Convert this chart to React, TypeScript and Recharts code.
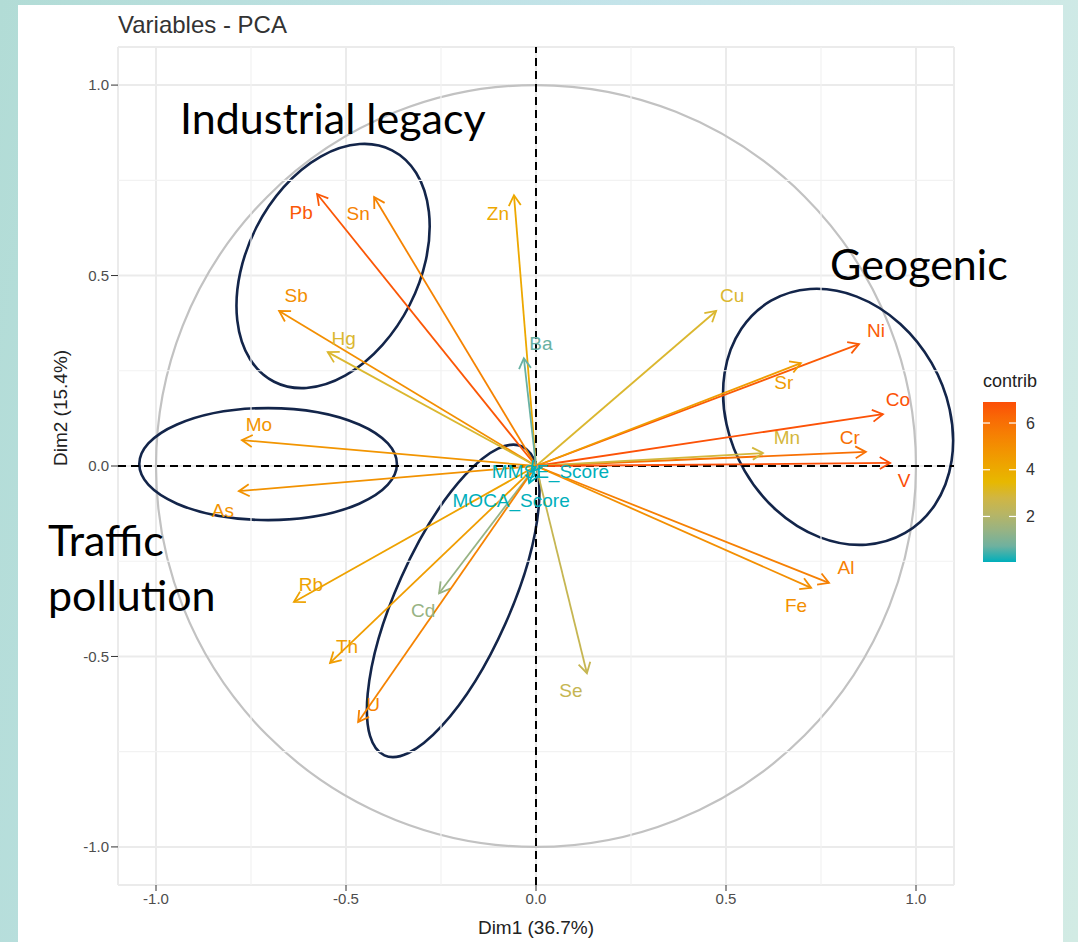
import React from "react";
import {
  ScatterChart,
  Scatter,
  XAxis,
  YAxis,
  CartesianGrid,
  ReferenceLine,
  ReferenceArea,
} from "recharts";

// PCA variable coordinates (Dim1, Dim2) and their contribution (%)
const variables = [
  "Pb", "Sn", "Zn", "Sb", "Hg", "Ba", "Mo", "As", "Cu", "Ni", "Sr", "Co",
  "Cr", "Mn", "V", "Al", "Fe", "Rb", "Th", "Cd", "U", "Se", "MMSE_Score", "MOCA_Score",
];
const dim1 = [
  -0.576, -0.426, -0.058, -0.676, -0.548, -0.032, -0.774, -0.782, 0.474, 0.85, 0.697, 0.913,
  0.868, 0.597, 0.932, 0.771, 0.724, -0.637, -0.542, -0.255, -0.468, 0.134, -0.012, -0.018,
];
const dim2 = [
  0.714, 0.706, 0.711, 0.407, 0.299, 0.283, 0.068, -0.066, 0.407, 0.32, 0.27, 0.136,
  0.037, 0.034, 0.008, -0.307, -0.32, -0.357, -0.517, -0.334, -0.672, -0.544, -0.015, -0.045,
];
const contrib = [
  6.7, 5.4, 4.1, 5.0, 3.1, 0.65, 4.8, 4.9, 3.1, 6.6, 4.5, 6.8,
  6.0, 2.9, 6.9, 5.5, 5.0, 4.3, 4.5, 1.4, 5.4, 2.5, 0.05, 0.05,
];

const axisTicks = [-1, -0.5, 0, 0.5, 1];
const minorTicks = [-0.75, -0.25, 0.25, 0.75];
const legendTicks = [2, 4, 6];

// hand-drawn groupings: centre, semi-axes (data units), rotation (deg)
const groups = [
  { label: "Industrial legacy", cx: -0.534, cy: 0.525, rx: 0.226, ry: 0.341, rot: 27 },
  { label: "Traffic pollution", cx: -0.705, cy: 0.005, rx: 0.339, ry: 0.147, rot: 0 },
  { label: "", cx: -0.218, cy: -0.354, rx: 0.15, ry: 0.444, rot: 24 },
  { label: "Geogenic", cx: 0.795, cy: 0.129, rx: 0.284, ry: 0.352, rot: -30 },
];

// label nudge from arrow tip, in pixels
const nudge: Record<string, [number, number]> = {
  Pb: [-16, 18], Sn: [-16, 16], Zn: [-16, 18], Sb: [17, -15], Hg: [16, -14], Ba: [17, -15],
  Mo: [17, -16], As: [-16, 19], Cu: [16, -15], Ni: [17, -14], Sr: [-17, 19], Co: [15, -15],
  Cr: [-16, -14], Mn: [24, -16], V: [14, 18], Al: [17, -15], Fe: [-15, 18], Rb: [17, -17],
  Th: [17, -16], Cd: [-16, 17], U: [15, -17], Se: [-16, 17], MMSE_Score: [19, 0], MOCA_Score: [-18, 17],
};

const GRAD = ["#00AFBB", "#E7B800", "#FC4E07"];
const cMin = Math.min(...contrib);
const cMax = Math.max(...contrib);

// colour interpolation in CIE Lab, like ggplot's gradientn
const toLin = (c: number) => (c <= 0.04045 ? c / 12.92 : Math.pow((c + 0.055) / 1.055, 2.4));
const fromLin = (c: number) => (c <= 0.0031308 ? 12.92 * c : 1.055 * Math.pow(c, 1 / 2.4) - 0.055);
const WP = [0.95047, 1, 1.08883];
const hexToLab = (hex: string) => {
  const [r, g, b] = [1, 3, 5].map((i) => toLin(parseInt(hex.slice(i, i + 2), 16) / 255));
  const xyz = [
    0.4124 * r + 0.3576 * g + 0.1805 * b,
    0.2126 * r + 0.7152 * g + 0.0722 * b,
    0.0193 * r + 0.1192 * g + 0.9505 * b,
  ].map((v, i) => v / WP[i]);
  const f = xyz.map((t) => (t > 0.008856 ? Math.cbrt(t) : 7.787 * t + 16 / 116));
  return [116 * f[1] - 16, 500 * (f[0] - f[1]), 200 * (f[1] - f[2])];
};
const labToRgb = (lab: number[]) => {
  const fy = (lab[0] + 16) / 116;
  const fx = fy + lab[1] / 500;
  const fz = fy - lab[2] / 200;
  const [x, y, z] = [fx, fy, fz].map((f, i) => (f ** 3 > 0.008856 ? f ** 3 : (f - 16 / 116) / 7.787) * WP[i]);
  const rgb = [
    3.2406 * x - 1.5372 * y - 0.4986 * z,
    -0.9689 * x + 1.8758 * y + 0.0415 * z,
    0.0557 * x - 0.204 * y + 1.057 * z,
  ].map((c) => Math.round(Math.min(1, Math.max(0, fromLin(c))) * 255));
  return `rgb(${rgb.join(",")})`;
};
const LABS = GRAD.map(hexToLab);
const colorOf = (v: number) => {
  const t = Math.min(1, Math.max(0, (v - cMin) / (cMax - cMin))) * (LABS.length - 1);
  const k = Math.min(LABS.length - 2, Math.floor(t));
  const u = t - k;
  return labToRgb(LABS[k].map((c, i) => c + (LABS[k + 1][i] - c) * u));
};

const points = variables.map((name, i) => ({
  name,
  x: dim1[i],
  y: dim2[i],
  contrib: contrib[i],
  color: colorOf(contrib[i]),
}));

const FONT = "'Liberation Sans', Arial, sans-serif";

const arrowShape = (color: string) => (p: any) => {
  const { x1, y1, x2, y2 } = p;
  const ang = Math.atan2(y2 - y1, x2 - x1);
  const L = 12;
  const a = Math.PI / 6;
  const h1 = `${x2 - L * Math.cos(ang - a)},${y2 - L * Math.sin(ang - a)}`;
  const h2 = `${x2 - L * Math.cos(ang + a)},${y2 - L * Math.sin(ang + a)}`;
  return (
    <g>
      <line x1={x1} y1={y1} x2={x2} y2={y2} stroke={color} strokeWidth={1.8} />
      <polyline points={`${h1} ${x2},${y2} ${h2}`} fill="none" stroke={color} strokeWidth={1.8} />
    </g>
  );
};

const ellipseShape = (stroke: string, width: number, rot: number) => (p: any) => {
  const cx = p.x + p.width / 2;
  const cy = p.y + p.height / 2;
  return (
    <ellipse
      cx={cx}
      cy={cy}
      rx={Math.abs(p.width) / 2}
      ry={Math.abs(p.height) / 2}
      fill="none"
      stroke={stroke}
      strokeWidth={width}
      transform={`rotate(${rot} ${cx} ${cy})`}
    />
  );
};

const LabelDot = (p: any) => {
  const { cx, cy, payload } = p;
  const [dx, dy] = nudge[payload.name] || [0, 0];
  return (
    <text
      x={cx + dx}
      y={cy + dy}
      textAnchor="middle"
      dominantBaseline="central"
      fontSize={19}
      fontFamily={FONT}
      fill={payload.color}
    >
      {payload.name}
    </text>
  );
};

const fmt = (v: number) => v.toFixed(1);

const ColorBar = () => {
  const top = 402;
  const h = 160;
  const yOf = (v: number) => top + ((cMax - v) / (cMax - cMin)) * h;
  const stops = [0, 0.1, 0.2, 0.3, 0.4, 0.5, 0.6, 0.7, 0.8, 0.9, 1];
  return (
    <svg width={1078} height={942} style={{ position: "absolute", left: 0, top: 0, pointerEvents: "none" }}>
      <defs>
        <linearGradient id="cb" x1="0" y1="1" x2="0" y2="0">
          {stops.map((s) => (
            <stop key={s} offset={`${s * 100}%`} stopColor={colorOf(cMin + s * (cMax - cMin))} />
          ))}
        </linearGradient>
      </defs>
      <text x={983} y={381} fontSize={18} fontFamily={FONT} fill="#222" dominantBaseline="central">
        contrib
      </text>
      <rect x={983} y={top} width={33} height={h} fill="url(#cb)" />
      {legendTicks.map((t) => (
        <g key={t}>
          <line x1={983} x2={990} y1={yOf(t)} y2={yOf(t)} stroke="#fff" strokeWidth={1.2} />
          <line x1={1009} x2={1016} y1={yOf(t)} y2={yOf(t)} stroke="#fff" strokeWidth={1.2} />
          <text x={1026} y={yOf(t)} fontSize={16} fontFamily={FONT} fill="#333" dominantBaseline="central">
            {t}
          </text>
        </g>
      ))}
    </svg>
  );
};

const noteStyle: React.CSSProperties = {
  position: "absolute",
  fontFamily: "Lato, 'Open Sans', sans-serif",
  fontSize: 43,
  color: "#000",
  lineHeight: "55px",
  whiteSpace: "nowrap",
};

export default function App() {
  return (
    <div
      style={{
        position: "absolute",
        left: 0,
        top: 0,
        width: 1078,
        height: 942,
        overflow: "hidden",
        background: "linear-gradient(100deg, #b2dcd6 0%, #c4e4ea 50%, #d2ebe4 100%)",
      }}
    >
      <div style={{ position: "absolute", left: 18, top: 5, width: 1045, height: 937, background: "#fff" }} />
      <div style={{ position: "absolute", left: 0, top: 0 }}>
        <ScatterChart width={1078} height={942} margin={{ top: 47, right: 124, left: 58, bottom: 0 }}>
          <CartesianGrid stroke="#ebebeb" strokeWidth={2} />
          {minorTicks.map((t) => (
            <ReferenceLine key={`vx${t}`} x={t} stroke="#f2f2f2" strokeWidth={1.2} />
          ))}
          {minorTicks.map((t) => (
            <ReferenceLine key={`hy${t}`} y={t} stroke="#f2f2f2" strokeWidth={1.2} />
          ))}
          <XAxis
            type="number"
            dataKey="x"
            domain={[-1.1, 1.1]}
            ticks={axisTicks}
            tickFormatter={fmt}
            axisLine={false}
            tickLine={{ stroke: "#333" }}
            tickSize={6}
            height={57}
            tick={{ fill: "#4d4d4d", fontSize: 15, fontFamily: FONT }}
            label={{ value: "Dim1 (36.7%)", position: "insideBottom", offset: 8, fill: "#222", fontSize: 19, fontFamily: FONT }}
          />
          <YAxis
            type="number"
            dataKey="y"
            domain={[-1.1, 1.1]}
            ticks={axisTicks}
            tickFormatter={fmt}
            axisLine={false}
            tickLine={{ stroke: "#333" }}
            tickSize={7}
            width={60}
            tick={{ fill: "#4d4d4d", fontSize: 15, fontFamily: FONT }}
            label={{ value: "Dim2 (15.4%)", angle: -90, position: "insideLeft", offset: 2, fill: "#222", fontSize: 19, fontFamily: FONT }}
          />
          <ReferenceArea x1={-1} x2={1} y1={-1} y2={1} ifOverflow="visible" shape={ellipseShape("#c2c2c2", 2.2, 0)} />
          <ReferenceLine x={0} stroke="#000" strokeWidth={2} strokeDasharray="8 5" />
          <ReferenceLine y={0} stroke="#000" strokeWidth={2} strokeDasharray="8 5" />
          {points.map((p) => (
            <ReferenceLine
              key={p.name}
              ifOverflow="visible"
              segment={[{ x: 0, y: 0 }, { x: p.x, y: p.y }]}
              shape={arrowShape(p.color)}
            />
          ))}
          <Scatter data={points} shape={LabelDot} isAnimationActive={false} />
          {groups.map((g, i) => (
            <ReferenceArea
              key={i}
              x1={g.cx - g.rx}
              x2={g.cx + g.rx}
              y1={g.cy - g.ry}
              y2={g.cy + g.ry}
              ifOverflow="visible"
              shape={ellipseShape("#13254a", 2.6, g.rot)}
            />
          ))}
        </ScatterChart>
      </div>
      <ColorBar />
      <div style={{ position: "absolute", left: 118, top: 11, fontFamily: FONT, fontSize: 24, color: "#333" }}>
        Variables - PCA
      </div>
      <div style={{ ...noteStyle, left: 180, top: 90 }}>Industrial legacy</div>
      <div style={{ ...noteStyle, left: 830, top: 236 }}>Geogenic</div>
      <div style={{ ...noteStyle, left: 48, top: 512 }}>
        Traffic
        <br />
        pollution
      </div>
    </div>
  );
}
